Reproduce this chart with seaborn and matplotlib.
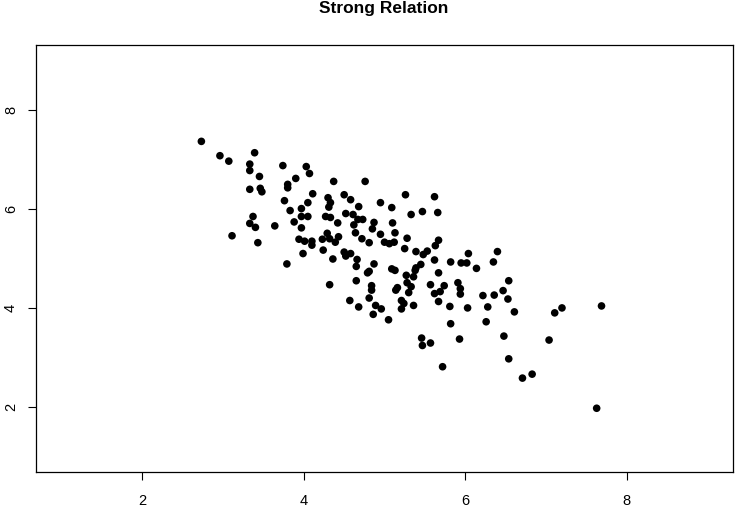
import matplotlib
matplotlib.use("Agg")
import matplotlib.pyplot as plt
import seaborn as sns
import pandas as pd

x_vals = [2.73, 2.96, 3.07, 3.39, 3.33, 3.33, 3.74, 3.45, 3.90, 3.33,
          3.46, 3.48, 3.80, 3.80, 3.76, 3.83, 3.37, 3.33, 3.40, 3.64,
          3.88, 4.03, 4.07, 4.37, 4.76, 4.11, 4.30, 4.33, 4.31, 4.05,
          3.97, 4.50, 4.58, 4.68, 4.95, 5.09, 3.97, 4.05, 4.27, 4.33,
          4.52, 4.61, 4.42, 4.67, 4.73, 4.62, 4.87, 5.10, 3.97, 4.85,
          5.26, 5.62, 5.33, 5.47, 5.66, 3.11, 3.43, 3.79, 3.94, 4.01,
          4.10, 4.10, 4.29, 4.23, 4.32, 4.43, 4.39, 4.64, 4.72, 4.81,
          4.95, 5.00, 5.06, 5.12, 5.13, 3.99, 4.24, 4.50, 4.58, 4.52,
          4.36, 4.66, 4.87, 4.65, 4.81, 4.79, 5.09, 5.13, 4.32, 4.65,
          4.84, 4.84, 5.16, 5.14, 4.57, 4.81, 4.68, 4.89, 4.96, 4.86,
          5.05, 5.28, 5.25, 5.39, 5.48, 5.53, 5.67, 5.63, 5.62, 5.82,
          5.95, 6.02, 6.04, 6.14, 6.35, 6.40, 5.45, 5.39, 5.38, 5.67,
          5.27, 5.36, 5.28, 5.33, 5.57, 5.74, 5.69, 5.62, 5.91, 5.94,
          5.94, 5.30, 5.21, 5.24, 5.21, 5.36, 5.67, 5.81, 6.03, 6.22,
          6.36, 6.47, 6.28, 5.82, 6.26, 6.54, 6.53, 6.61, 7.11, 7.20,
          7.69, 5.46, 5.47, 5.57, 5.93, 6.48, 5.72, 7.04, 6.54, 6.71,
          6.83, 7.63]
y_vals = [7.37, 7.08, 6.97, 7.14, 6.91, 6.78, 6.88, 6.66, 6.62, 6.40,
          6.42, 6.35, 6.50, 6.43, 6.17, 5.97, 5.85, 5.71, 5.63, 5.66,
          5.74, 6.86, 6.72, 6.56, 6.56, 6.31, 6.23, 6.13, 6.04, 6.13,
          6.01, 6.29, 6.19, 6.05, 6.13, 6.03, 5.85, 5.85, 5.85, 5.83,
          5.91, 5.89, 5.72, 5.79, 5.79, 5.68, 5.73, 5.72, 5.62, 5.60,
          6.29, 6.25, 5.89, 5.95, 5.93, 5.46, 5.32, 4.89, 5.39, 5.35,
          5.35, 5.27, 5.51, 5.39, 5.40, 5.44, 5.33, 5.52, 5.40, 5.32,
          5.49, 5.33, 5.30, 5.33, 5.52, 5.10, 5.17, 5.13, 5.10, 5.05,
          4.99, 4.98, 4.89, 4.84, 4.74, 4.71, 4.79, 4.76, 4.47, 4.55,
          4.45, 4.36, 4.41, 4.36, 4.15, 4.20, 4.02, 4.05, 3.98, 3.87,
          3.76, 5.41, 5.20, 5.14, 5.08, 5.15, 5.37, 5.26, 4.97, 4.93,
          4.91, 4.91, 5.10, 4.80, 4.93, 5.14, 4.88, 4.81, 4.76, 4.71,
          4.66, 4.63, 4.51, 4.43, 4.47, 4.45, 4.33, 4.29, 4.51, 4.39,
          4.28, 4.31, 4.15, 4.09, 3.98, 4.05, 4.13, 4.03, 4.00, 4.25,
          4.26, 4.35, 4.02, 3.68, 3.72, 4.55, 4.18, 3.92, 3.90, 4.00,
          4.04, 3.39, 3.24, 3.29, 3.37, 3.43, 2.81, 3.35, 2.97, 2.58,
          2.66, 1.97]
x_ticks = [2, 4, 6, 8]
y_ticks = [2, 4, 6, 8]
title = "Strong Relation"

df = pd.DataFrame({"x": x_vals, "y": y_vals})

sns.set_style("white")
plt.rcParams["font.family"] = ["Liberation Sans", "DejaVu Sans"]

fig = plt.figure(figsize=(7.35, 5.07), dpi=100)
ax = fig.add_axes([36 / 735, 1 - 472 / 507, (733 - 36) / 735, (472 - 45) / 507])
sns.scatterplot(data=df, x="x", y="y", ax=ax, color="black", s=30,
                edgecolor="none", linewidth=0, marker="o")
ax.set_xlim(0.68, 9.32)
ax.set_ylim(0.68, 9.32)
ax.set_xticks(x_ticks)
ax.set_yticks(y_ticks)
ax.set_xticklabels([str(v) for v in x_ticks], fontsize=10.5, color="black")
ax.set_yticklabels([str(v) for v in y_ticks], fontsize=10.5, color="black",
                   rotation=90, va="center")
ax.tick_params(axis="both", bottom=True, left=True, direction="out",
               length=6, width=0.8, color="black")
ax.tick_params(axis="x", pad=10)
ax.tick_params(axis="y", pad=7)
ax.set_xlabel("")
ax.set_ylabel("")
for sp in ax.spines.values():
    sp.set_visible(True)
    sp.set_color("black")
    sp.set_linewidth(0.9)
fig.text(384 / 735, 1 - 9 / 507, title, ha="center", va="center",
         fontsize=12.5, fontweight="bold", color="black")
fig.savefig("out.png", dpi=100, facecolor="white")
